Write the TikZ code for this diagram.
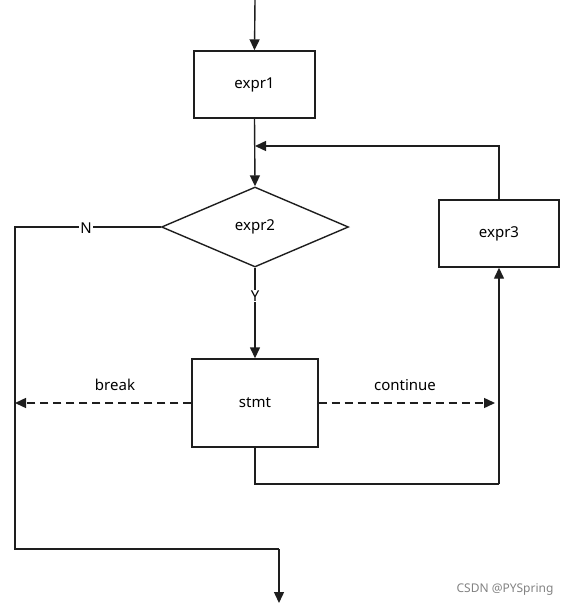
\documentclass[tikz,border=0pt]{standalone}
\usepackage{fontspec}
\setmainfont{Noto Sans}
\usetikzlibrary{arrows.meta,shapes.geometric}
\begin{document}
\begin{tikzpicture}[x=1pt,y=-1pt,
  line width=1.4pt, draw={rgb,255:red,30;green,30;blue,30},
  >={Triangle[length=11pt,width=10pt]},
  box/.style={draw, rectangle, inner sep=0pt, font=\fontsize{15}{17}\selectfont},
  dia/.style={draw, diamond, inner sep=0pt, minimum width=187pt, minimum height=80pt, font=\fontsize{15}{17}\selectfont},
  lbl/.style={fill=white, inner sep=1pt, font=\fontsize{15}{17}\selectfont},
  flow/.style={->},
  dflow/.style={->, dash pattern=on 8pt off 5pt}]
\useasboundingbox (0,0) rectangle (573,607);
\coordinate (top) at (255,0);
\node[box, minimum width=121pt, minimum height=67pt] (e1) at (254.5,84.5) {expr1};
\node[dia] (e2) at (255,227) {expr2};
\node[box, minimum width=120pt, minimum height=67pt] (e3) at (499,233.5) {expr3};
\node[box, minimum width=126pt, minimum height=88pt] (st) at (255,403) {stmt};
\coordinate (fb) at (255,146);
\coordinate (nl) at (15,227);
\coordinate (nb) at (15,549);
\coordinate (nr) at (279,549);
\coordinate (endb) at (279,603);
\coordinate (brk) at (15,403);
\coordinate (cnt) at (495,403);
\coordinate (sb) at (255,484);
\coordinate (sr) at (499,484);

\draw[flow] (top) -- (e1.north);
\draw[flow] (e1.south) -- (e2.north);
\draw[flow] (e3.north) |- (fb);
\draw (e2.west) -- (nl) -- (nb) -- (nr);
\draw[flow] (nr) -- (endb);
\node[lbl] (N) at (86,228) {N};
\draw[flow] (e2.south) -- (st.north);
\node[lbl] (Y) at (255,296) {Y};
\draw[dflow] (st.west) -- (brk);
\draw[dflow] (st.east) -- (cnt);
\node[font=\fontsize{15}{17}\selectfont] (bl) at (115,385) {break};
\node[font=\fontsize{15}{17}\selectfont] (cl) at (405,385) {continue};
\draw (st.south) -- (sb) -- (sr);
\draw[flow] (sr) -- (e3.south);
\node[text={rgb,255:red,130;green,130;blue,130}, font=\fontsize{12}{14}\selectfont] (wm) at (505,590) {CSDN @PYSpring};
\end{tikzpicture}
\end{document}
